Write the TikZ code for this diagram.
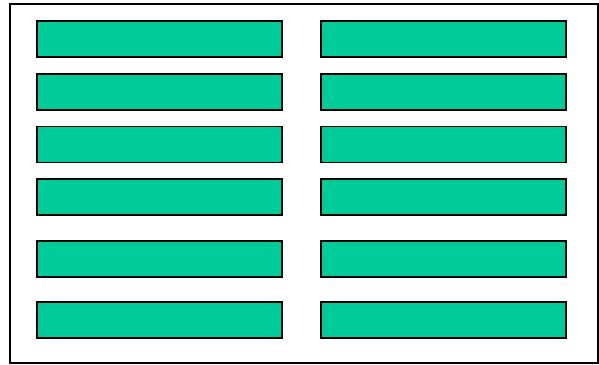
\documentclass[tikz,border=0pt]{standalone}
\usepackage{xcolor}
\usepackage{tikz}
\definecolor{barfill}{rgb}{0.0,0.80,0.60}

\begin{document}
\begin{tikzpicture}[
  x=1pt, y=-1pt,
  framebox/.style={draw=black, line width=1.3pt},
  barbox/.style={
    rectangle, draw=black, line width=1.3pt,
    fill=barfill, inner sep=0pt,
    minimum width=245pt, minimum height=36pt
  }
]
\useasboundingbox (0,0) rectangle (599,364);

% Outer frame
\draw[framebox] (10,4) rectangle (598,363);

% Left column
\node[barbox] (left1) at (159.5, 39) {};
\node[barbox] (left2) at (159.5, 92) {};
\node[barbox] (left3) at (159.5, 144.5) {};
\node[barbox] (left4) at (159.5, 197) {};
\node[barbox] (left5) at (159.5, 259) {};
\node[barbox] (left6) at (159.5, 320) {};

% Right column
\node[barbox] (right1) at (443.5, 39) {};
\node[barbox] (right2) at (443.5, 92) {};
\node[barbox] (right3) at (443.5, 144.5) {};
\node[barbox] (right4) at (443.5, 197) {};
\node[barbox] (right5) at (443.5, 259) {};
\node[barbox] (right6) at (443.5, 320) {};

\end{tikzpicture}
\end{document}
